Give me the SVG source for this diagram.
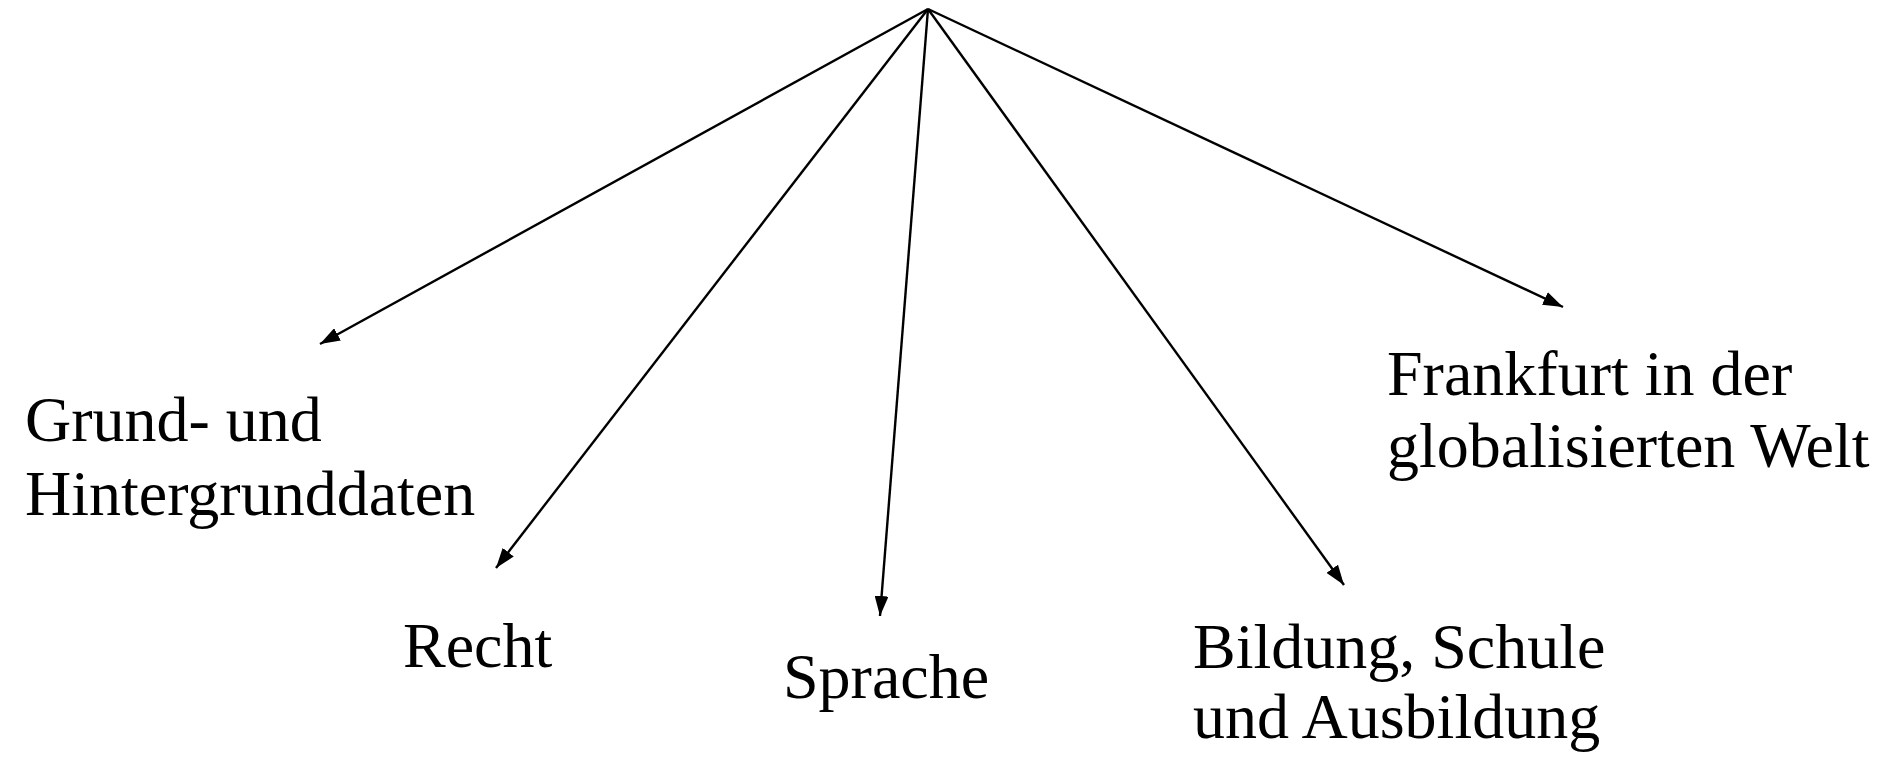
<svg xmlns="http://www.w3.org/2000/svg" width="1888" height="757" viewBox="0 0 1888 757">
<style>
.lbl{font-family:"Liberation Serif","Times New Roman",serif;font-size:64px;fill:#000}
.edge{stroke:#000;stroke-width:2.4;fill:none}
</style>
<defs>
<marker id="ah" viewBox="0 0 20 14" refX="20" refY="7" markerWidth="20" markerHeight="14" markerUnits="userSpaceOnUse" orient="auto">
<path d="M0,0 L20,7 L0,14 Z" fill="#000"/>
</marker>
</defs>
<rect width="1888" height="757" fill="#fff"/>
<g id="connectors">
<line class="edge" x1="928" y1="9" x2="320" y2="344" marker-end="url(#ah)"/>
<line class="edge" x1="928" y1="9" x2="496" y2="568" marker-end="url(#ah)"/>
<line class="edge" x1="928" y1="9" x2="880" y2="616" marker-end="url(#ah)"/>
<line class="edge" x1="928" y1="9" x2="1344" y2="585" marker-end="url(#ah)"/>
<line class="edge" x1="928" y1="9" x2="1563" y2="307" marker-end="url(#ah)"/>
</g>
<g id="grund"><text class="lbl" x="25" y="441">Grund- und</text><text class="lbl" x="25" y="515">Hintergrunddaten</text></g>
<g id="recht"><text class="lbl" x="403" y="667">Recht</text></g>
<g id="sprache"><text class="lbl" x="783" y="698">Sprache</text></g>
<g id="bildung"><text class="lbl" x="1193" y="668">Bildung, Schule</text><text class="lbl" x="1193" y="738">und Ausbildung</text></g>
<g id="frankfurt"><text class="lbl" x="1387" y="395">Frankfurt in der</text><text class="lbl" x="1387" y="467">globalisierten Welt</text></g>
</svg>
